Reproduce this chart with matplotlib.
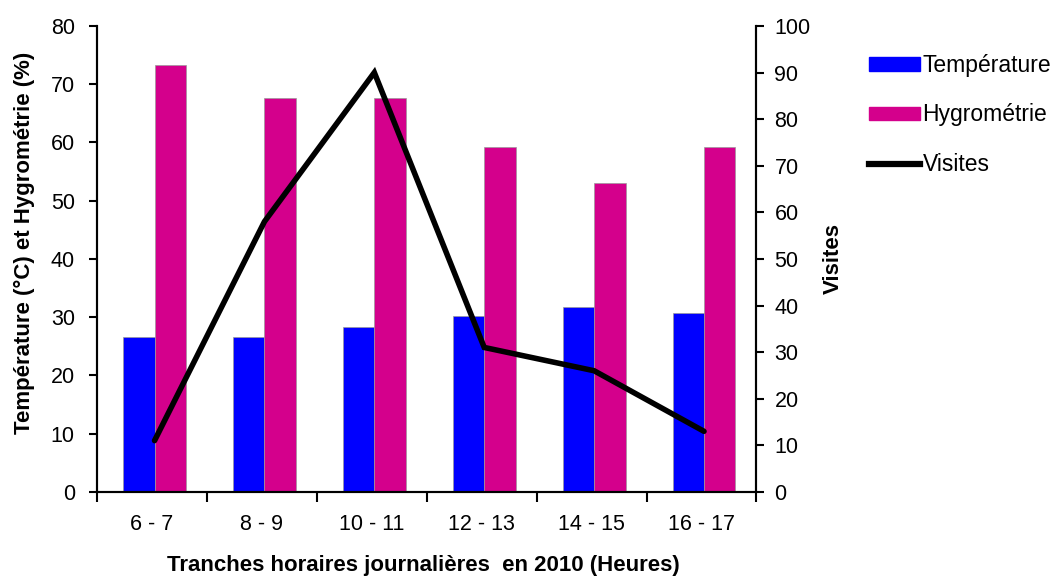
import numpy as np
import matplotlib
matplotlib.use("Agg")
import matplotlib.pyplot as plt
from matplotlib import font_manager
from matplotlib.lines import Line2D
from matplotlib.patches import Patch

plt.rcParams["font.family"] = ["Liberation Sans", "DejaVu Sans"]

# données
tranches = ["6 - 7", "8 - 9", "10 - 11", "12 - 13", "14 - 15", "16 - 17"]
temperature = [26.6, 26.6, 28.3, 30.2, 31.8, 30.7]
hygrometrie = [73.3, 67.6, 67.6, 59.2, 53.0, 59.2]
visites = [11, 58, 90, 31, 26, 13]

BLUE = "#0000ff"
MAGENTA = "#d4008c"

# police étroite pour les titres d'axes si elle existe
installed = {f.name for f in font_manager.fontManager.ttflist}
if "Liberation Sans Narrow" in installed:
    label_font = dict(fontsize=19, fontweight="bold", family=["Liberation Sans Narrow", "DejaVu Sans"])
else:
    label_font = dict(fontsize=16, fontweight="bold", family=["Liberation Sans", "DejaVu Sans"])

fig = plt.figure(figsize=(10.55, 5.76), dpi=100)
ax = fig.add_axes([0.092, 0.146, 0.625, 0.809])
ax2 = ax.twinx()

x = np.arange(len(tranches))
w = 0.286
off = 0.023
ax.bar(x - w / 2 + off, temperature, w, color=BLUE, edgecolor="#9a9a9a", linewidth=0.5, zorder=2)
ax.bar(x + w / 2 + off, hygrometrie, w, color=MAGENTA, edgecolor="#9a9a9a", linewidth=0.5, zorder=2)
ax2.plot(x + off, visites, color="black", lw=4.0, solid_capstyle="round", solid_joinstyle="miter", zorder=3)

ax.set_xlim(-0.5, len(tranches) - 0.5)
ax.set_ylim(0, 80)
ax.set_yticks(range(0, 81, 10))
ax2.set_ylim(0, 100)
ax2.set_yticks(range(0, 101, 10))

# graduations entre les catégories
ax.set_xticks(np.arange(-0.5, len(tranches), 1.0))
ax.set_xticklabels([])
ax.set_xticks(x, minor=True)
ax.set_xticklabels(tranches, minor=True)
ax.tick_params(axis="x", which="minor", length=0, pad=16, labelsize=15.5)
ax.tick_params(axis="x", which="major", direction="out", length=7, width=1.5)
ax.tick_params(axis="y", direction="out", length=6, width=1.5, labelsize=15.5, pad=10)
ax2.tick_params(axis="y", direction="out", length=6, width=1.5, labelsize=15.5, pad=7)

for a in (ax, ax2):
    a.spines["top"].set_visible(False)
    for s in ("left", "right", "bottom"):
        a.spines[s].set_linewidth(1.5)

ax.set_xlabel("Tranches horaires journalières  en 2010 (Heures)", **label_font)
ax.set_ylabel("Température (°C) et Hygrométrie (%)", **label_font)
ax2.set_ylabel("Visites", **label_font)
ax.xaxis.set_label_coords(0.495, -0.135)
ax.yaxis.set_label_coords(-0.094, 0.535)
ax2.yaxis.set_label_coords(1.100, 0.5)

handles = [
    Patch(facecolor=BLUE, edgecolor=BLUE, label="Température"),
    Patch(facecolor=MAGENTA, edgecolor=MAGENTA, label="Hygrométrie"),
    Line2D([0], [0], color="black", lw=4.5, label="Visites"),
]
fig.legend(handles=handles, loc="upper left", bbox_to_anchor=(0.824, 0.906),
           frameon=False, fontsize=16.5, handlelength=2.2, handleheight=0.5,
           handletextpad=0.12, labelspacing=1.15, borderaxespad=0, borderpad=0)

fig.savefig("out.png", dpi=100)
